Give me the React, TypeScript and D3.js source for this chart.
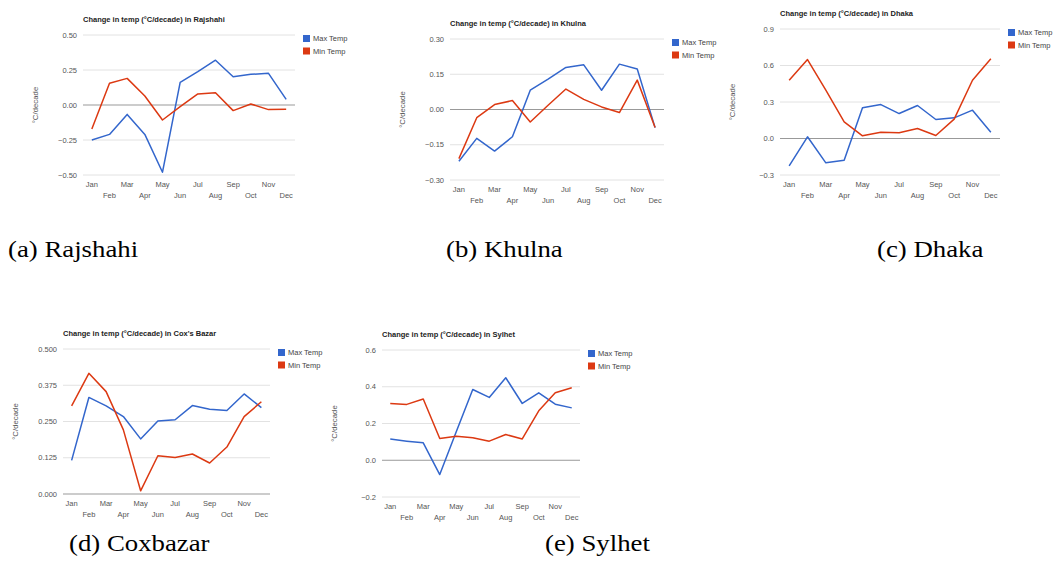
import React from 'react';
import * as d3 from 'd3';

const months = ['Jan', 'Feb', 'Mar', 'Apr', 'May', 'Jun', 'Jul', 'Aug', 'Sep', 'Oct', 'Nov', 'Dec'];

const rajshahiMax = [-0.25, -0.21, -0.067, -0.21, -0.48, 0.162, 0.238, 0.32, 0.202, 0.219, 0.226, 0.04];
const rajshahiMin = [-0.171, 0.155, 0.19, 0.064, -0.107, -0.012, 0.079, 0.088, -0.04, 0.007, -0.033, -0.031];
const rajshahiTicks = [-0.5, -0.25, 0, 0.25, 0.5];

const khulnaMax = [-0.22, -0.123, -0.177, -0.116, 0.082, 0.129, 0.179, 0.19, 0.082, 0.193, 0.172, -0.077];
const khulnaMin = [-0.209, -0.035, 0.021, 0.038, -0.053, 0.018, 0.087, 0.043, 0.011, -0.013, 0.125, -0.077];
const khulnaTicks = [-0.3, -0.15, 0, 0.15, 0.3];

const dhakaMax = [-0.225, 0.014, -0.2, -0.178, 0.252, 0.279, 0.205, 0.271, 0.156, 0.17, 0.233, 0.052];
const dhakaMin = [0.479, 0.649, 0.397, 0.137, 0.022, 0.052, 0.047, 0.082, 0.025, 0.159, 0.479, 0.655];
const dhakaTicks = [-0.3, 0, 0.3, 0.6, 0.9];

const coxMax = [0.116, 0.333, 0.304, 0.267, 0.19, 0.252, 0.256, 0.305, 0.292, 0.288, 0.345, 0.298];
const coxMin = [0.304, 0.416, 0.353, 0.221, 0.011, 0.132, 0.126, 0.138, 0.107, 0.162, 0.267, 0.318];
const coxTicks = [0, 0.125, 0.25, 0.375, 0.5];

const sylhetMax = [0.115, 0.104, 0.095, -0.078, 0.155, 0.385, 0.342, 0.449, 0.309, 0.367, 0.305, 0.285];
const sylhetMin = [0.309, 0.304, 0.333, 0.118, 0.131, 0.122, 0.104, 0.14, 0.116, 0.269, 0.367, 0.395];
const sylhetTicks = [-0.2, 0, 0.2, 0.4, 0.6];

const seriesNames = ['Max Temp', 'Min Temp'];
const captions = ['(a) Rajshahi', '(b) Khulna', '(c) Dhaka', '(d) Coxbazar', '(e) Sylhet'];

// layout of each small chart (plot box in page pixels)
const charts = [
  { title: 'Change in temp (°C/decade) in Rajshahi', max: rajshahiMax, min: rajshahiMin, ticks: rajshahiTicks, fmt: '.2f', x0: 83, x1: 295, y0: 35, y1: 175, cap: [8, 257] },
  { title: 'Change in temp (°C/decade) in Khulna', max: khulnaMax, min: khulnaMin, ticks: khulnaTicks, fmt: '.2f', x0: 450, x1: 664, y0: 39, y1: 180, cap: [446, 257] },
  { title: 'Change in temp (°C/decade) in Dhaka', max: dhakaMax, min: dhakaMin, ticks: dhakaTicks, fmt: '.1f', x0: 780, x1: 1000, y0: 29, y1: 175, cap: [877, 257] },
  { title: "Change in temp (°C/decade) in Cox's Bazar", max: coxMax, min: coxMin, ticks: coxTicks, fmt: '.3f', x0: 63, x1: 270, y0: 349, y1: 494, cap: [69, 551] },
  { title: 'Change in temp (°C/decade) in Sylhet', max: sylhetMax, min: sylhetMin, ticks: sylhetTicks, fmt: '.1f', x0: 382, x1: 580, y0: 350, y1: 497, cap: [545, 551] },
];

const colors = ['#3366cc', '#dc3912'];
const sans = '"Liberation Sans", Arial, sans-serif';

function SmallChart({ c, idx }) {
  const x = d3.scalePoint().domain(months).range([c.x0, c.x1]).padding(0.5);
  const y = d3.scaleLinear().domain(d3.extent(c.ticks)).range([c.y1, c.y0]);
  const fmt = d3.format(c.fmt);
  const line = d3.line()
    .x((d, i) => x(months[i]))
    .y((d) => y(d));

  return (
    <g fontFamily={sans}>
      <text x={c.x0} y={c.y0 - 13.5} fontSize={7.5} fontWeight="bold" fill="#222">{c.title}</text>
      {c.ticks.map((t) => (
        <g key={t}>
          <line x1={c.x0} x2={c.x1} y1={y(t)} y2={y(t)} stroke={t === 0 ? '#999' : '#e2e2e2'} strokeWidth={1} />
          <text x={c.x0 - 6} y={y(t) + 2.7} fontSize={7.5} textAnchor="end" fill="#555">{fmt(t)}</text>
        </g>
      ))}
      {months.map((m, i) => (
        <text key={m} x={x(m)} y={c.y1 + (i % 2 === 0 ? 12 : 22.5)} fontSize={7.5} textAnchor="middle" fill="#555">{m}</text>
      ))}
      <text transform={`translate(${c.x0 - 45},${(c.y0 + c.y1) / 2}) rotate(-90)`} fontSize={7.8} textAnchor="middle" fill="#555">°C/decade</text>
      {[c.max, c.min].map((s, k) => (
        <path key={k} d={line(s)} fill="none" stroke={colors[k]} strokeWidth={1.5} strokeLinejoin="round" />
      ))}
      {seriesNames.map((n, k) => (
        <g key={n}>
          <rect x={c.x1 + 8} y={c.y0 + k * 12.5} width={7} height={7} fill={colors[k]} />
          <text x={c.x1 + 18} y={c.y0 + k * 12.5 + 6.3} fontSize={7.5} fill="#444">{n}</text>
        </g>
      ))}
      <text transform={`translate(${c.cap[0]},${c.cap[1]}) scale(1.14,1)`} fontSize={23.5} fontFamily='"Liberation Serif", "Times New Roman", serif' fill="#000">
        {captions[idx]}
      </text>
    </g>
  );
}

export default function App() {
  return (
    <svg width={1055} height={576} style={{ position: 'absolute', left: 0, top: 0, background: '#fff' }}>
      <rect width={1055} height={576} fill="#fff" />
      {charts.map((c, i) => (
        <SmallChart key={c.title} c={c} idx={i} />
      ))}
    </svg>
  );
}
